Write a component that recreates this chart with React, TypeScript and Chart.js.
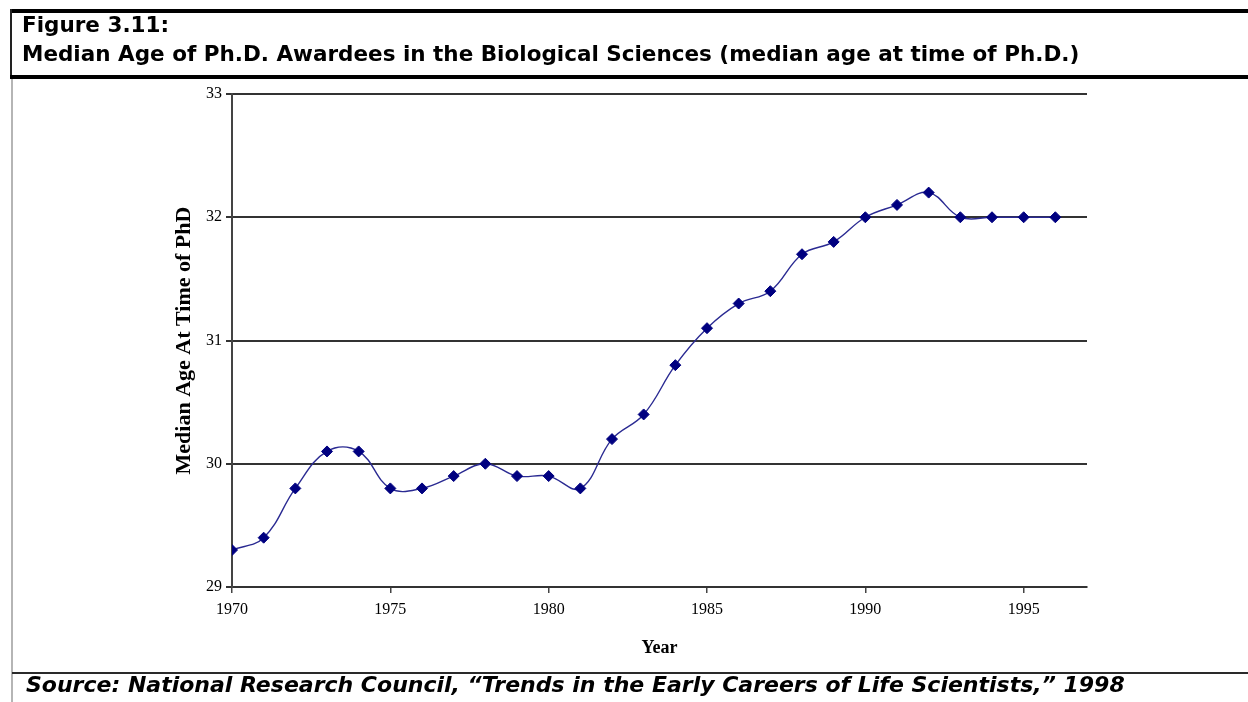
import React, { useEffect, useRef } from "react";
import { Chart, registerables } from "chart.js";

Chart.register(...registerables);

const years = [1970, 1971, 1972, 1973, 1974, 1975, 1976, 1977, 1978, 1979, 1980, 1981, 1982, 1983, 1984, 1985, 1986, 1987, 1988, 1989, 1990, 1991, 1992, 1993, 1994, 1995, 1996];
const medianAge = [29.3, 29.4, 29.8, 30.1, 30.1, 29.8, 29.8, 29.9, 30.0, 29.9, 29.9, 29.8, 30.2, 30.4, 30.8, 31.1, 31.3, 31.4, 31.7, 31.8, 32.0, 32.1, 32.2, 32.0, 32.0, 32.0, 32.0];
const xTicks = [1970, 1975, 1980, 1985, 1990, 1995];
const yTicks = [29, 30, 31, 32, 33];

const titleLine1 = "Figure 3.11:";
const titleLine2 = "Median Age of Ph.D. Awardees in the Biological Sciences (median age at time of Ph.D.)";
const sourceText = "Source: National Research Council, \u201cTrends in the Early Careers of Life Scientists,\u201d 1998";
const xAxisTitle = "Year";
const yAxisTitle = "Median Age At Time of PhD";

const W = 1248;
const H = 702;

export default function App() {
  const canvasRef = useRef<HTMLCanvasElement | null>(null);

  useEffect(() => {
    const canvas = canvasRef.current;
    if (!canvas) return;
    const chart = new Chart(canvas, {
      type: "line",
      data: {
        datasets: [
          {
            data: years.map((y, i) => ({ x: y, y: medianAge[i] })),
            borderColor: "#2a2a92",
            backgroundColor: "#000080",
            pointBorderColor: "#000080",
            borderWidth: 1.4,
            pointStyle: "rectRot",
            pointRadius: 5.5,
            pointBorderWidth: 1,
            tension: 0.4,
            fill: false,
          },
        ],
      },
      options: {
        responsive: false,
        animation: false,
        devicePixelRatio: 1,
        layout: { padding: { left: 172, right: 161, top: 94, bottom: 43 } },
        plugins: { legend: { display: false }, tooltip: { enabled: false } },
        scales: {
          x: {
            type: "linear",
            min: 1970,
            max: 1997,
            afterBuildTicks: (s: any) => {
              s.ticks = xTicks.map((v) => ({ value: v }));
            },
            afterFit: (s: any) => {
              s.height = 72;
            },
            ticks: {
              callback: (v: any) => String(v),
              font: { family: '"Liberation Serif"', size: 16 },
              color: "#000",
              padding: 7,
              maxRotation: 0,
              autoSkip: false,
            },
            grid: { drawOnChartArea: false, drawTicks: true, tickLength: 6, color: "#444", lineWidth: 1.5 },
            border: { display: true, color: "#333", width: 2 },
            title: {
              display: true,
              text: xAxisTitle,
              color: "#000",
              padding: 0,
              font: { family: '"Liberation Serif"', size: 18, weight: "bold", lineHeight: 1.2 },
            },
          },
          y: {
            type: "linear",
            min: 29,
            max: 33,
            afterBuildTicks: (s: any) => {
              s.ticks = yTicks.map((v) => ({ value: v }));
            },
            afterFit: (s: any) => {
              s.width = 60;
            },
            ticks: {
              callback: (v: any) => String(v),
              font: { family: '"Liberation Serif"', size: 16 },
              color: "#000",
              padding: 4,
            },
            grid: { color: "#333", lineWidth: 2, tickLength: 6 },
            border: { display: true, color: "#444", width: 2 },
            title: {
              display: true,
              text: yAxisTitle,
              color: "#000",
              padding: 0,
              font: { family: '"Liberation Serif"', size: 22, weight: "bold", lineHeight: 1.1 },
            },
          },
        },
      },
    });
    return () => chart.destroy();
  }, []);

  const titleStyle: React.CSSProperties = {
    position: "absolute",
    left: 22,
    fontFamily: '"DejaVu Sans", sans-serif',
    fontWeight: "bold",
    fontSize: 21.5,
    lineHeight: "20px",
    whiteSpace: "nowrap",
    color: "#000",
  };

  return (
    <div style={{ position: "absolute", left: 0, top: 0, width: W, height: H, overflow: "hidden", background: "#fff" }}>
      <canvas ref={canvasRef} width={W} height={H} style={{ position: "absolute", left: 0, top: 0, width: W, height: H }} />
      <div style={{ position: "absolute", left: 10, top: 9, width: 1238, height: 4, background: "#000" }} />
      <div style={{ position: "absolute", left: 10, top: 9, width: 2, height: 70, background: "#222" }} />
      <div style={{ position: "absolute", left: 11, top: 79, width: 2, height: 623, background: "#b5b5b5" }} />
      <div style={{ position: "absolute", left: 10, top: 75, width: 1238, height: 4, background: "#000" }} />
      <div style={{ position: "absolute", left: 12, top: 672, width: 1236, height: 2, background: "#2a2a2a" }} />
      <div style={{ ...titleStyle, top: 15 }}>{titleLine1}</div>
      <div style={{ ...titleStyle, top: 44 }}>{titleLine2}</div>
      <div style={{ ...titleStyle, top: 675, left: 26, fontSize: 22, fontStyle: "italic" }}>{sourceText}</div>
    </div>
  );
}
